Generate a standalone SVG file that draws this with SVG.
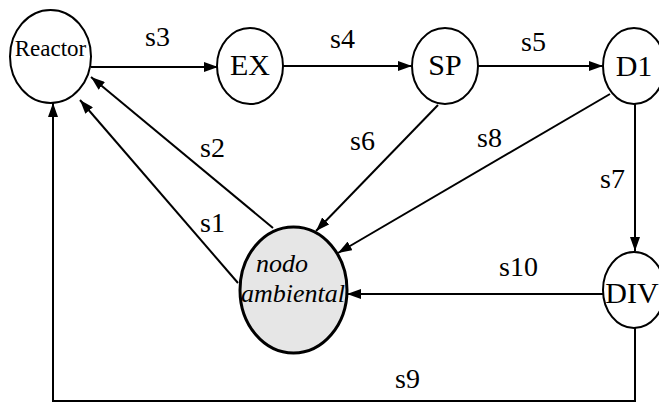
<svg xmlns="http://www.w3.org/2000/svg" width="659" height="403" viewBox="0 0 659 403">
  <style>
    text { font-family: 'Liberation Serif', 'Times New Roman', Times, 'DejaVu Serif', serif; fill: #000000; }
    .node { fill: #ffffff; stroke: #000000; stroke-width: 2; }
    .env { fill: #e6e6e6; stroke: #000000; stroke-width: 3; }
    .name { font-size: 30px; text-anchor: middle; }
    .small { font-size: 23px; }
    .ital { font-size: 26px; font-style: italic; }
    .edge { fill: none; stroke: #000000; stroke-width: 2; }
    .lbl { font-size: 28px; }
  </style>
  <defs>
    <marker id="arrow" viewBox="0 0 14 10" refX="14" refY="5" markerWidth="14" markerHeight="10" markerUnits="userSpaceOnUse" orient="auto">
      <path d="M0,0 L14,5 L0,10 Z" fill="#000000"/>
    </marker>
  </defs>

  <rect x="0" y="0" width="659" height="403" fill="#ffffff"/>

  <!-- connectors -->
  <g id="connectors">
    <line class="edge" x1="91" y1="67" x2="218" y2="67" marker-end="url(#arrow)"/>
    <line class="edge" x1="283" y1="66" x2="412" y2="66" marker-end="url(#arrow)"/>
    <line class="edge" x1="478" y1="66" x2="603" y2="66" marker-end="url(#arrow)"/>
    <line class="edge" x1="635" y1="104" x2="635" y2="251" marker-end="url(#arrow)"/>
    <line class="edge" x1="603" y1="294" x2="347" y2="294" marker-end="url(#arrow)"/>
    <line class="edge" x1="438" y1="105" x2="316" y2="231" marker-end="url(#arrow)"/>
    <line class="edge" x1="610" y1="94" x2="338" y2="253" marker-end="url(#arrow)"/>
    <line class="edge" x1="273" y1="228" x2="91" y2="77" marker-end="url(#arrow)"/>
    <line class="edge" x1="238" y1="283" x2="80" y2="100" marker-end="url(#arrow)"/>
    <polyline class="edge" points="635,328 635,401 53,401 53,103" marker-end="url(#arrow)"/>

    <text class="lbl" x="145" y="46">s3</text>
    <text class="lbl" x="330" y="48">s4</text>
    <text class="lbl" x="521" y="51">s5</text>
    <text class="lbl" x="350" y="150">s6</text>
    <text class="lbl" x="477" y="147">s8</text>
    <text class="lbl" x="200" y="157">s2</text>
    <text class="lbl" x="200" y="232">s1</text>
    <text class="lbl" x="600" y="188">s7</text>
    <text class="lbl" x="499" y="276">s10</text>
    <text class="lbl" x="395" y="388">s9</text>
  </g>

  <!-- nodes -->
  <g id="reactor">
    <ellipse class="node" cx="50.5" cy="56.5" rx="40.5" ry="46.5"/>
    <text class="name small" x="50.5" y="56">Reactor</text>
  </g>
  <g id="ex">
    <ellipse class="node" cx="250" cy="66" rx="33" ry="38"/>
    <text class="name" x="250" y="75">EX</text>
  </g>
  <g id="sp">
    <ellipse class="node" cx="445" cy="66" rx="33" ry="38"/>
    <text class="name" x="445" y="75">SP</text>
  </g>
  <g id="d1">
    <ellipse class="node" cx="634" cy="66" rx="31" ry="38"/>
    <text class="name" x="634" y="76">D1</text>
  </g>
  <g id="div">
    <ellipse class="node" cx="634" cy="290" rx="31" ry="38"/>
    <text class="name" x="632" y="303">DIV</text>
  </g>
  <g id="nodo-ambiental">
    <ellipse class="env" cx="293.5" cy="290" rx="53.5" ry="63"/>
    <text class="ital" x="256" y="272">nodo</text>
    <text class="ital" x="241" y="302">ambiental</text>
  </g>
</svg>
